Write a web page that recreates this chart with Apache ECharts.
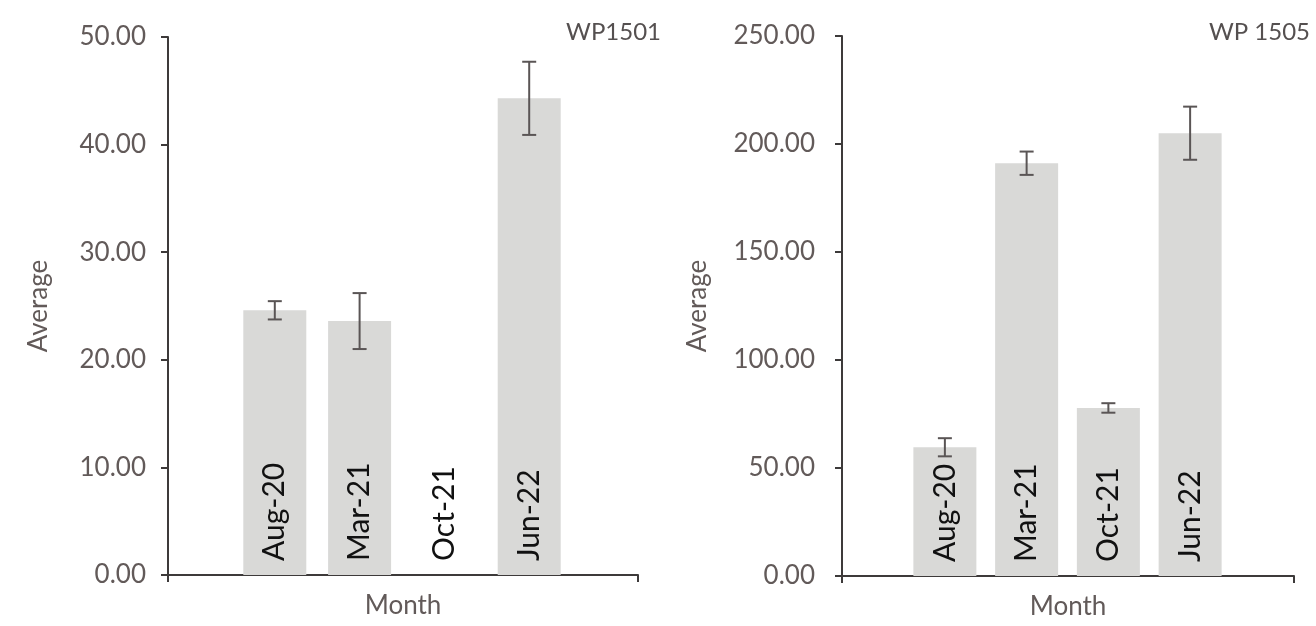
<!DOCTYPE html>
<html>
<head>
<meta charset="utf-8">
<script src="https://cdn.jsdelivr.net/npm/echarts@6/dist/echarts.min.js"></script>
<style>
html,body{margin:0;padding:0;background:#fff;}
#c{width:1316px;height:626px;}
</style>
</head>
<body>
<div id="c"></div>
<script>
const categories = ['Aug-20', 'Mar-21', 'Oct-21', 'Jun-22'];
const wp1501Avg = [24.6, 23.6, null, 44.3];
const wp1501Err = [0.85, 2.6, null, 3.4];
const wp1505Avg = [59.6, 191.1, 77.8, 205.0];
const wp1505Err = [4.2, 5.4, 2.2, 12.3];
const wp1501Ticks = { min: 0, max: 50, interval: 10 };
const wp1505Ticks = { min: 0, max: 250, interval: 50 };

const FONT = 'Lato';
const TXT = '#625a59';
const AX = '#3d3a3a';

function fullX(name) {
  return {
    type: 'value', min: 0, max: 1, interval: 1,
    axisLine: { show: true, lineStyle: { color: AX, width: 2 } },
    axisTick: { show: true, length: 7, lineStyle: { color: AX, width: 2 } },
    axisLabel: { show: false },
    splitLine: { show: false },
    name: name, nameLocation: 'middle', nameGap: 18,
    nameTextStyle: { color: TXT, fontSize: 26, fontFamily: FONT }
  };
}
function fullY(t, margin, gap) {
  return {
    type: 'value', min: t.min, max: t.max, interval: t.interval,
    axisLine: { show: true, lineStyle: { color: AX, width: 2 } },
    axisTick: { show: true, length: 7, lineStyle: { color: AX, width: 2 } },
    axisLabel: { color: TXT, fontSize: 26, fontFamily: FONT, margin: margin,
      formatter: v => v.toFixed(2) },
    splitLine: { show: false },
    name: 'Average', nameLocation: 'middle', nameGap: gap,
    nameTextStyle: { color: TXT, fontSize: 26, fontFamily: FONT }
  };
}
function catX(gridIndex) {
  return {
    type: 'category', gridIndex: gridIndex, data: categories, z: 10,
    axisLine: { show: false }, axisTick: { show: false },
    axisLabel: { inside: true, rotate: 90, margin: 14, color: '#111',
      fontSize: 30, fontFamily: FONT, interval: 0 }
  };
}
function hidY(gridIndex, t) {
  return { type: 'value', gridIndex: gridIndex, min: t.min, max: t.max, show: false,
    splitLine: { show: false } };
}
function errSeries(axisIdx, avg, err) {
  return {
    type: 'custom', xAxisIndex: axisIdx, yAxisIndex: axisIdx, z: 5,
    data: categories.map((c, i) => [i, avg[i], err[i]]),
    renderItem: function (params, api) {
      const v = api.value(1), e = api.value(2);
      if (v == null || isNaN(v) || e == null || isNaN(e)) return null;
      const hi = api.coord([api.value(0), v + e]);
      const lo = api.coord([api.value(0), v - e]);
      const w = 7;
      const st = { stroke: '#5a5555', lineWidth: 2 };
      return {
        type: 'group',
        children: [
          { type: 'line', shape: { x1: hi[0], y1: hi[1], x2: lo[0], y2: lo[1] }, style: st },
          { type: 'line', shape: { x1: hi[0] - w, y1: hi[1], x2: hi[0] + w, y2: hi[1] }, style: st },
          { type: 'line', shape: { x1: lo[0] - w, y1: lo[1], x2: lo[0] + w, y2: lo[1] }, style: st }
        ]
      };
    }
  };
}

const option = {
  backgroundColor: '#fff',
  animation: false,
  title: [
    { text: 'WP1501', right: 655, top: 20, padding: 0, textStyle: { color: '#555050', fontSize: 24, fontWeight: 'normal', fontFamily: FONT } },
    { text: 'WP 1505', right: 6, top: 20, padding: 0, textStyle: { color: '#555050', fontSize: 24, fontWeight: 'normal', fontFamily: FONT } }
  ],
  grid: [
    { left: 168, width: 470, top: 37, height: 538 },
    { left: 232.4, width: 339.2, top: 37, height: 538 },
    { left: 842, width: 452, top: 36, height: 540 },
    { left: 904, width: 327, top: 36, height: 540 }
  ],
  xAxis: [
    Object.assign(fullX('Month'), { gridIndex: 0 }),
    catX(1),
    Object.assign(fullX('Month'), { gridIndex: 2 }),
    catX(3)
  ],
  yAxis: [
    Object.assign(fullY(wp1501Ticks, 22, 116), { gridIndex: 0 }),
    hidY(1, wp1501Ticks),
    Object.assign(fullY(wp1505Ticks, 27, 131), { gridIndex: 2 }),
    hidY(3, wp1505Ticks)
  ],
  series: [
    { type: 'bar', xAxisIndex: 1, yAxisIndex: 1, data: wp1501Avg, barWidth: 63,
      itemStyle: { color: '#d9d9d7' } },
    errSeries(1, wp1501Avg, wp1501Err),
    { type: 'bar', xAxisIndex: 3, yAxisIndex: 3, data: wp1505Avg, barWidth: 63,
      itemStyle: { color: '#d9d9d7' } },
    errSeries(3, wp1505Avg, wp1505Err)
  ]
};

const chart = echarts.init(document.getElementById('c'), null, { renderer: 'canvas' });
chart.setOption(option);
</script>
</body>
</html>
